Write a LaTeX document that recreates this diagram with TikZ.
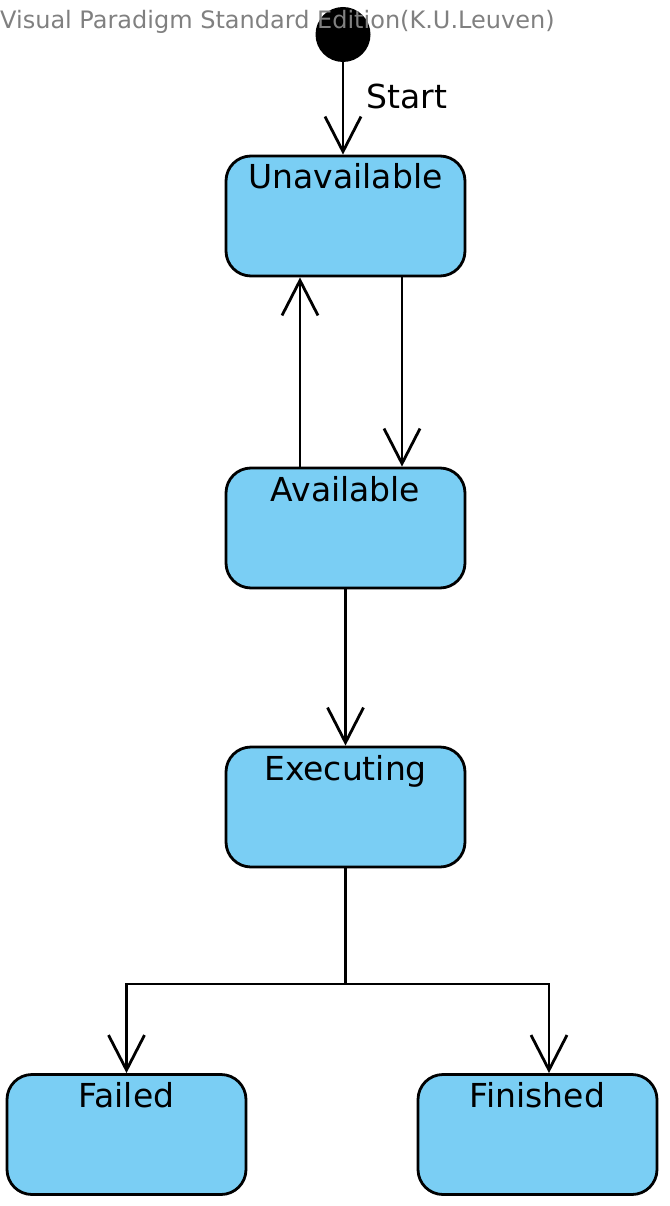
\documentclass[tikz,border=0pt]{standalone}
\usepackage{fontspec}
\setmainfont{DejaVu Sans}
\usetikzlibrary{arrows.meta,calc}
\definecolor{statefill}{RGB}{122,206,244}
\definecolor{wmgray}{RGB}{128,128,128}
\begin{document}
\begin{tikzpicture}[x=1pt,y=-1pt,
  statebox/.style={draw=black, line width=2.8pt, fill=statefill, rounded corners=25pt,
    minimum width=239pt, text width=239pt, align=center, inner xsep=0pt, inner ysep=0pt,
    text height=33pt, text depth=87pt, font=\fontsize{33}{39}\selectfont},
  tr/.style={line width=2.8pt, -{Straight Barb[length=35pt,width=36pt,line width=2.8pt]}},
  ln/.style={line width=2.8pt}]
\useasboundingbox (0,0) rectangle (669,1206);
\node[circle, fill=black, minimum size=55pt, inner sep=0pt] (init) at (343,34.5) {};
\node[anchor=base west, inner sep=0pt, text=wmgray, font=\fontsize{24}{28}\selectfont] (wm) at (0,29) {Visual Paradigm Standard Edition(K.U.Leuven)};
\node[statebox] (unav) at (345.5,216) {Unavailable};
\node[statebox] (avail) at (345.5,528) {Available};
\node[statebox] (exec) at (345.5,807) {Executing};
\node[statebox] (failed) at (126.5,1134.5) {Failed};
\node[statebox] (fin) at (537.5,1134.5) {Finished};
\draw[tr] (init.south) -- (init.south |- unav.north) node[pos=0.4, anchor=base west, inner sep=0pt, xshift=22pt, yshift=-9pt, font=\fontsize{33}{39}\selectfont] (startlbl) {Start};
\draw[tr] ([xshift=-45.5pt]avail.north) -- ([xshift=-45.5pt]unav.south);
\draw[tr] ([xshift=56.5pt]unav.south) -- ([xshift=56.5pt]avail.north);
\draw[tr] (avail.south) -- (exec.north);
\coordinate (j) at (345.5,984);
\draw[ln] (exec.south) -- (j);
\draw[tr] (j) -| (failed.north);
\draw[tr] (j) -| ([xshift=11.5pt]fin.north);
\end{tikzpicture}
\end{document}
